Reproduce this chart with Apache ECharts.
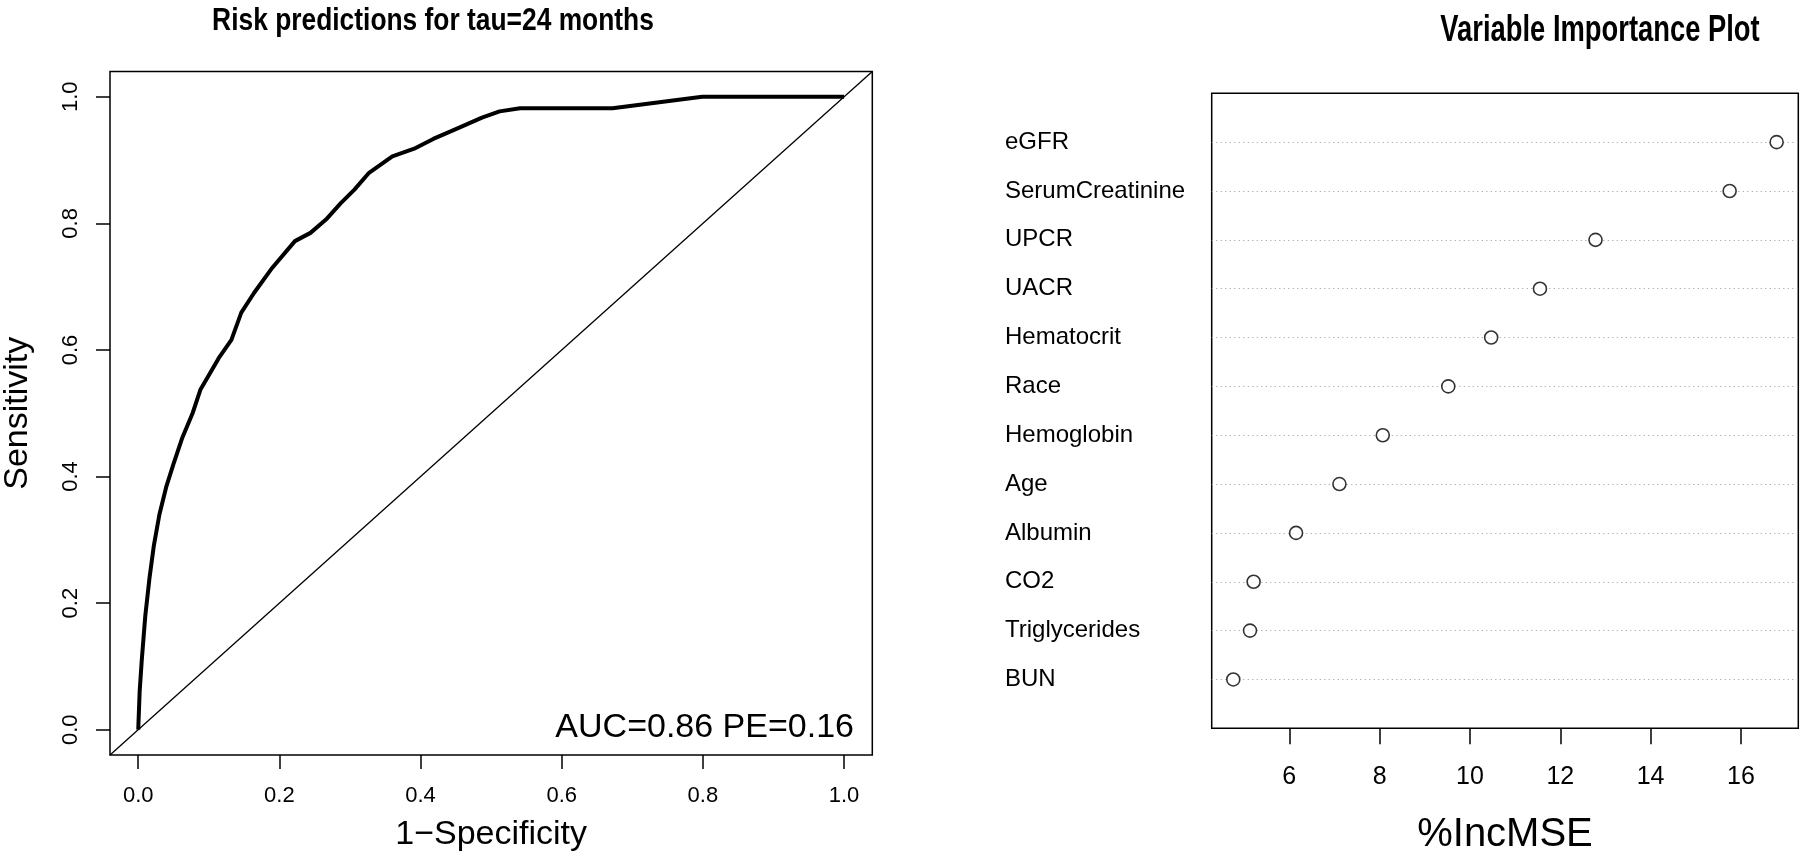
<!DOCTYPE html>
<html>
<head>
<meta charset="utf-8">
<script src="https://cdn.jsdelivr.net/npm/echarts@6/dist/echarts.min.js"></script>
<style>
  html, body { margin: 0; padding: 0; background: #fff; }
  #chart { width: 1800px; height: 864px; }
</style>
</head>
<body>
<div id="chart"></div>
<script>
// ---- Left panel: ROC curve ----
const rocFpr = [0, 0.002, 0.005, 0.010, 0.016, 0.022, 0.030, 0.040, 0.050, 0.062, 0.077, 0.088, 0.099, 0.114, 0.132, 0.146, 0.164, 0.190, 0.222, 0.244, 0.266, 0.287, 0.306, 0.327, 0.360, 0.393, 0.418, 0.454, 0.487, 0.512, 0.541, 0.672, 0.799, 1.0];
const rocTpr = [0, 0.06, 0.11, 0.18, 0.24, 0.29, 0.34, 0.385, 0.42, 0.46, 0.50, 0.537, 0.558, 0.587, 0.616, 0.659, 0.690, 0.730, 0.772, 0.785, 0.806, 0.832, 0.853, 0.880, 0.906, 0.919, 0.9335, 0.951, 0.967, 0.977, 0.982, 0.982, 1.0, 1.0];
const rocTicks = [0, 0.2, 0.4, 0.6, 0.8, 1.0];
const refLine = [-0.04, 1.04];

// ---- Right panel: variable importance ----
const varNames = ['eGFR', 'SerumCreatinine', 'UPCR', 'UACR', 'Hematocrit', 'Race', 'Hemoglobin', 'Age', 'Albumin', 'CO2', 'Triglycerides', 'BUN'];
const incMSE = [16.79, 15.75, 12.78, 11.55, 10.47, 9.52, 8.07, 7.11, 6.15, 5.21, 5.13, 4.76];
const mseTicks = [6, 8, 10, 12, 14, 16];

const FONT = '"Liberation Sans", Arial, Helvetica, sans-serif';
const nRows = varNames.length;
const rowPos = varNames.map((_, i) => nRows - i);
const rowTicks = rowPos.slice().sort((a, b) => a - b);

const chart = echarts.init(document.getElementById('chart'), null, { renderer: 'canvas' });

chart.setOption({
  backgroundColor: '#ffffff',
  animation: false,
  textStyle: { fontFamily: FONT, color: '#000' },
  title: [
    {
      text: 'AUC=0.86 PE=0.16',
      right: 1800 - 859, top: 706,
      textStyle: { fontFamily: FONT, fontWeight: 'normal', fontSize: 34, color: '#000' }
    }
  ],
  graphic: [
    {
      type: 'text', x: 433, y: 21, scaleX: 0.824,
      style: { text: 'Risk predictions for tau=24 months', x: 0, y: 0, align: 'center', verticalAlign: 'middle',
               font: 'bold 32px "Liberation Sans", Arial, sans-serif', fill: '#000' }
    },
    {
      type: 'text', x: 1600, y: 31, scaleX: 0.76,
      style: { text: 'Variable Importance Plot', x: 0, y: 0, align: 'center', verticalAlign: 'middle',
               font: 'bold 36px "Liberation Sans", Arial, sans-serif', fill: '#000' }
    }
  ],
  grid: [
    { left: 109.3, top: 71.5, width: 763, height: 683.5, show: true, borderColor: '#000', borderWidth: 1.5, backgroundColor: 'transparent' },
    { left: 1211.7, top: 93.3, width: 586.6, height: 635, show: true, borderColor: '#000', borderWidth: 1.5, backgroundColor: 'transparent' }
  ],
  xAxis: [
    {
      gridIndex: 0, type: 'value', min: refLine[0], max: refLine[1],
      axisLine: { show: false, onZero: false },
      axisTick: { show: true, inside: false, length: 14, customValues: rocTicks, lineStyle: { color: '#000', width: 1.5 } },
      axisLabel: { customValues: rocTicks, formatter: v => v.toFixed(1), fontSize: 22, color: '#000', margin: 30, fontFamily: FONT },
      splitLine: { show: false },
      name: '1\u2212Specificity', nameLocation: 'middle', nameGap: 63,
      nameTextStyle: { fontSize: 34, color: '#000', fontFamily: FONT }
    },
    {
      gridIndex: 1, type: 'value', min: 4.282, max: 17.27,
      axisLine: { show: false, onZero: false },
      axisTick: { show: true, inside: false, length: 16, customValues: mseTicks, lineStyle: { color: '#000', width: 1.5 } },
      axisLabel: { customValues: mseTicks, fontSize: 25, color: '#000', margin: 36, fontFamily: FONT },
      splitLine: { show: false },
      name: '%IncMSE', nameLocation: 'middle', nameGap: 87,
      nameTextStyle: { fontSize: 40, color: '#000', fontFamily: FONT }
    }
  ],
  yAxis: [
    {
      gridIndex: 0, type: 'value', min: refLine[0], max: refLine[1],
      axisLine: { show: false, onZero: false },
      axisTick: { show: true, inside: false, length: 14, customValues: rocTicks, lineStyle: { color: '#000', width: 1.5 } },
      axisLabel: { customValues: rocTicks, formatter: v => v.toFixed(1), rotate: 90, fontSize: 22, color: '#000', margin: 28, fontFamily: FONT },
      splitLine: { show: false },
      name: 'Sensitivity', nameLocation: 'middle', nameGap: 75, nameRotate: 90,
      nameTextStyle: { fontSize: 34, color: '#000', fontFamily: FONT }
    },
    {
      gridIndex: 1, type: 'value', min: 0, max: nRows + 1,
      axisLine: { show: false, onZero: false },
      axisTick: { show: false, customValues: rowTicks },
      axisLabel: {
        customValues: rowTicks,
        formatter: v => varNames[nRows - v] || '',
        align: 'left', margin: 206.7, fontSize: 24, color: '#000', fontFamily: FONT
      },
      splitLine: { show: true, lineStyle: { color: '#a8a8a8', width: 1.2, type: [1.2, 3.3] } }
    }
  ],
  series: [
    {
      type: 'line', xAxisIndex: 0, yAxisIndex: 0,
      data: [[refLine[0], refLine[0]], [refLine[1], refLine[1]]],
      symbol: 'none', silent: true,
      lineStyle: { color: '#000', width: 1.3 }
    },
    {
      type: 'line', xAxisIndex: 0, yAxisIndex: 0,
      data: rocFpr.map((x, i) => [x, rocTpr[i]]),
      symbol: 'none', smooth: false,
      lineStyle: { color: '#000', width: 4, join: 'round', cap: 'butt' }
    },
    {
      type: 'scatter', xAxisIndex: 1, yAxisIndex: 1,
      data: incMSE.map((v, i) => [v, rowPos[i]]),
      symbol: 'circle', symbolSize: 13,
      itemStyle: { color: '#fff', borderColor: '#000', borderWidth: 1.6 }
    }
  ]
});
</script>
</body>
</html>
